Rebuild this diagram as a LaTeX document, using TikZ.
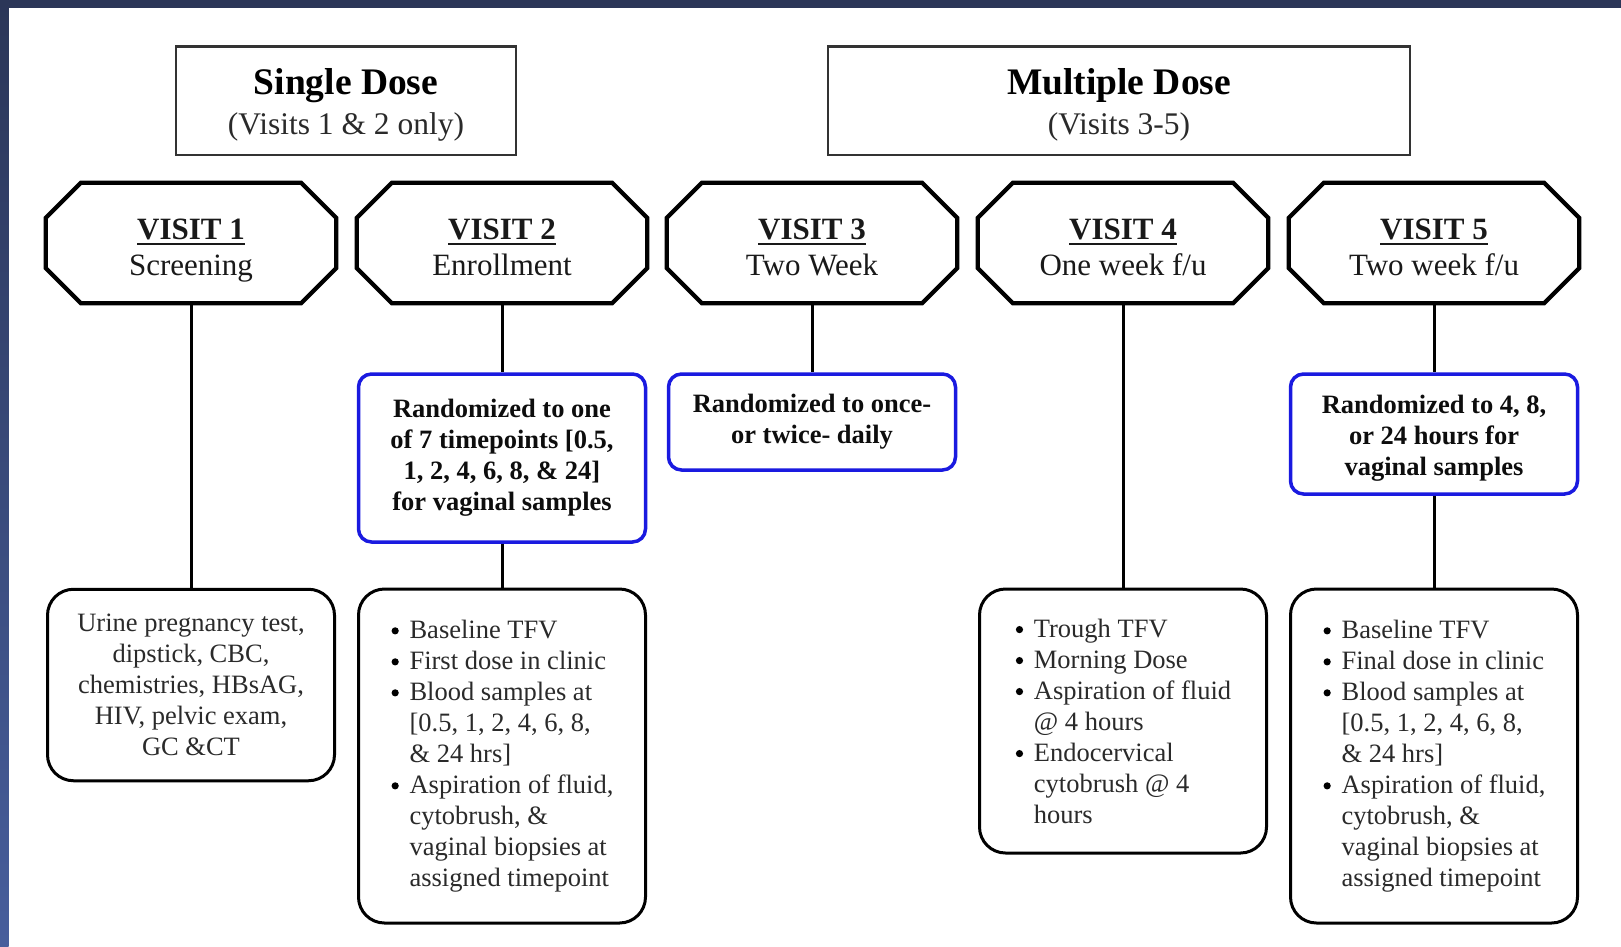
\documentclass[tikz,border=0pt]{standalone}
\usepackage{fontspec}
\setmainfont{Liberation Serif}
\usetikzlibrary{calc}
\definecolor{navy}{HTML}{2B3658}
\definecolor{navylow}{HTML}{475E9C}
\definecolor{boxblue}{HTML}{1A1AE0}
\definecolor{bodytext}{HTML}{2A2A2A}
\newcommand\ulvisit[1]{\rule{0pt}{36pt}\vtop{\hbox{\bfseries #1}\kern2.5pt\hrule height 2.6pt}}
\newcommand\bul{\makebox[19pt][l]{\hspace*{1pt}\tikz[baseline=-7.5pt]\fill[black] (0,0) circle (3.6pt);}}
\newcommand\ind{\hspace*{19pt}}
\newcommand\octdraw[1]{%
  \draw[octline] ([xshift=35pt]#1.north west) -- ([xshift=-35pt]#1.north east)
    -- ([yshift=-35pt]#1.north east) -- ([yshift=35pt]#1.south east)
    -- ([xshift=-35pt]#1.south east) -- ([xshift=35pt]#1.south west)
    -- ([yshift=35pt]#1.south west) -- ([yshift=-35pt]#1.north west) -- cycle;}
\begin{document}
\begin{tikzpicture}[x=1pt,y=-1pt,
  hdrbox/.style={draw=black!80, line width=2.3pt, inner sep=0pt, align=center,
    minimum height=108.5pt, text=bodytext, font=\fontsize{31.5}{40}\selectfont},
  octtext/.style={inner sep=0pt, minimum width=290pt, minimum height=120pt,
    align=center, text=black!90, font=\fontsize{31}{36}\selectfont},
  octline/.style={line width=4.2pt, line join=miter},
  bluebox/.style={draw=boxblue, line width=3.5pt, rounded corners=13pt, inner sep=0pt,
    minimum width=287pt, align=center, text=black!95, font=\fontsize{26.5}{31}\selectfont\bfseries},
  listbox/.style={draw=black, line width=3pt, rounded corners=26pt, inner sep=0pt,
    minimum width=287pt, text=bodytext, font=\fontsize{26.5}{31}\selectfont},
  link/.style={line width=3pt}]
\useasboundingbox (0,0) rectangle (1621,946);
\fill[white] (0,0) rectangle (1621,946);
\fill[navy] (0,0) rectangle (1621,7.5);
\shade[top color=navy, bottom color=navylow] (0,0) rectangle (8.5,946);

% headers
\node[hdrbox, minimum width=340pt] (single) at (346,100.7)
  {\rule{0pt}{35pt}{\fontsize{37.5}{40}\selectfont\bfseries\color{black} Single Dose}\\(Visits 1 \& 2 only)};
\node[hdrbox, minimum width=582pt] (multi) at (1119,100.7)
  {\rule{0pt}{35pt}{\fontsize{37.5}{40}\selectfont\bfseries\color{black} Multiple Dose}\\(Visits 3-5)};

% visit octagons
\node[octtext] (v1) at (191,243) {\ulvisit{VISIT 1}\\Screening\vphantom{g}};
\node[octtext] (v2) at (502,243) {\ulvisit{VISIT 2}\\Enrollment\vphantom{g}};
\node[octtext] (v3) at (812,243) {\ulvisit{VISIT 3}\\Two Week\vphantom{g}};
\node[octtext] (v4) at (1123,243) {\ulvisit{VISIT 4}\\One week f/u\vphantom{g}};
\node[octtext] (v5) at (1434,243) {\ulvisit{VISIT 5}\\Two week f/u\vphantom{g}};
\octdraw{v1}\octdraw{v2}\octdraw{v3}\octdraw{v4}\octdraw{v5}

% randomization boxes
\node[bluebox, minimum height=168pt] (r2) at (502,458)
  {Randomized to one\\of 7 timepoints [0.5,\\1, 2, 4, 6, 8, \& 24]\\for vaginal samples};
\node[bluebox, minimum height=96pt] (r3) at (812,422)
  {Randomized to once-\\or twice- daily};
\node[bluebox, minimum height=120pt] (r5) at (1434,434)
  {\rule{0pt}{26pt}Randomized to 4, 8,\\or 24 hours for\\vaginal samples};

% procedure boxes
\node[listbox, minimum height=191.5pt, align=center] (b1) at (191,685)
  {Urine pregnancy test,\\dipstick, CBC,\\chemistries, HBsAG,\\HIV, pelvic exam,\\GC \&CT};
\node[listbox, minimum height=334pt, align=left] (b2) at (502,756)
  {\bul Baseline TFV\\\bul First dose in clinic\\\bul Blood samples at\\\ind [0.5, 1, 2, 4, 6, 8,\\\ind \& 24 hrs]\\\bul Aspiration of fluid,\\\ind cytobrush, \&\\\ind vaginal biopsies at\\\ind assigned timepoint};
\node[listbox, minimum height=264pt, align=left] (b4) at (1123,721)
  {\bul Trough TFV\\\bul Morning Dose\\\bul Aspiration of fluid\\\ind @ 4 hours\\\bul Endocervical\\\ind cytobrush @ 4\\\ind hours};
\node[listbox, minimum height=334pt, align=left] (b5) at (1434,756)
  {\bul Baseline TFV\\\bul Final dose in clinic\\\bul Blood samples at\\\ind [0.5, 1, 2, 4, 6, 8,\\\ind \& 24 hrs]\\\bul Aspiration of fluid,\\\ind cytobrush, \&\\\ind vaginal biopsies at\\\ind assigned timepoint};

% connectors
\draw[link] (v1.south) -- (b1.north);
\draw[link] (v2.south) -- (r2.north);
\draw[link] (r2.south) -- (b2.north);
\draw[link] (v3.south) -- (r3.north);
\draw[link] (v4.south) -- (b4.north);
\draw[link] (v5.south) -- (r5.north);
\draw[link] (r5.south) -- (b5.north);
\end{tikzpicture}
\end{document}
